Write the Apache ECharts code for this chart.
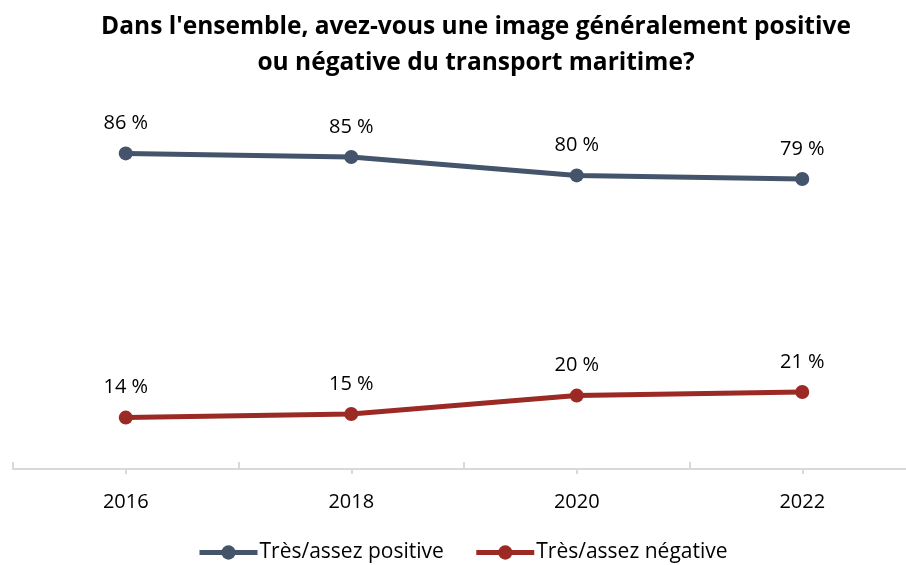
<!DOCTYPE html>
<html>
<head>
<meta charset="utf-8">
<script src="https://cdn.jsdelivr.net/npm/echarts@6/dist/echarts.min.js"></script>
<style>
  html, body { margin: 0; padding: 0; background: #fff; }
  #chart { width: 906px; height: 565px; }
</style>
</head>
<body>
<div id="chart"></div>
<script>
// data
const years = ['2016', '2018', '2020', '2022']
const positive = [86, 85, 80, 79]
const negative = [14, 15, 20, 21]
const font = '"Open Sans", Lato, sans-serif'

const chart = echarts.init(document.getElementById('chart'))

function lineSeries(name, data, color) {
  return {
    name: name,
    type: 'line',
    data: data,
    symbol: 'circle',
    symbolSize: 14,
    lineStyle: { width: 5, color: color },
    itemStyle: { color: color },
    label: {
      show: true,
      position: 'top',
      distance: 13,
      formatter: p => p.value + ' %',
      fontFamily: font,
      fontSize: 20,
      color: '#000'
    },
    animation: false
  }
}

chart.setOption({
  title: {
    text: "Dans l'ensemble, avez-vous une image généralement positive\nou négative du transport maritime?",
    left: 471,
    textAlign: 'center',
    top: 4,
    textStyle: {
      fontFamily: font,
      fontSize: 24.5,
      fontWeight: 'bold',
      color: '#000',
      lineHeight: 36
    }
  },
  legend: {
    bottom: -3,
    left: 192,
    itemWidth: 58,
    itemHeight: 18,
    itemGap: 30,
    lineStyle: { width: 5 },
    textStyle: { fontFamily: font, fontSize: 21, color: '#000', padding: [0, 0, 0, -3] },
    data: ['Très/assez positive', 'Très/assez négative']
  },
  grid: { left: 13, width: 902, top: 102, bottom: 96, outerBoundsMode: 'none', containLabel: false },
  xAxis: [{
    type: 'category',
    data: years,
    boundaryGap: true,
    axisLine: { lineStyle: { color: '#d9d9d9', width: 2 } },
    axisTick: { show: true, inside: true, length: 7, lineStyle: { color: '#d9d9d9', width: 2 } },
    axisLabel: { fontFamily: font, fontSize: 20, color: '#000', margin: 23 }
  }, {
    type: 'category',
    data: years,
    position: 'bottom',
    boundaryGap: true,
    axisLine: { show: false },
    axisTick: { show: true, alignWithLabel: true, length: 5, lineStyle: { color: '#d9d9d9', width: 2 } },
    axisLabel: { show: false }
  }],
  yAxis: {
    type: 'value',
    min: 0,
    max: 100,
    show: false,
    splitLine: { show: false }
  },
  series: [
    lineSeries('Très/assez positive', positive, '#44546A'),
    lineSeries('Très/assez négative', negative, '#9B2A25')
  ]
})
</script>
</body>
</html>
